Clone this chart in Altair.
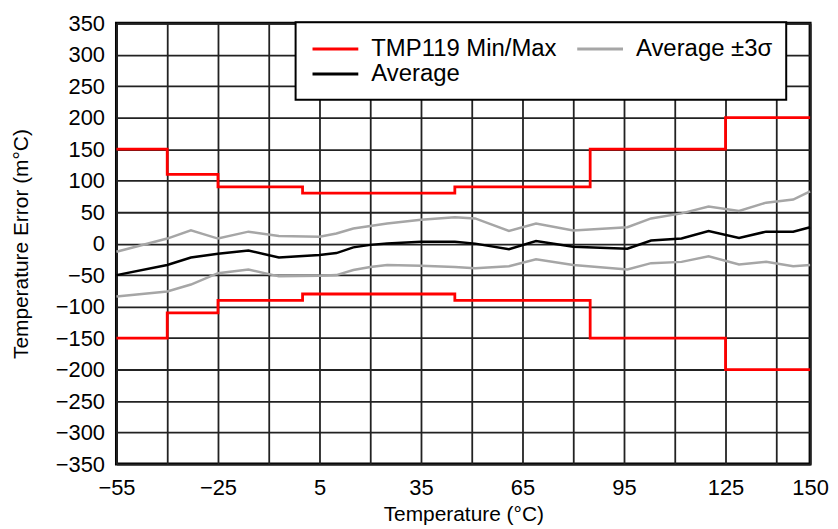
import altair as alt
import pandas as pd

# ---- data ----
limit_temps = [-55, -40, -25, 0, 45, 85, 125, 150]
limit_max = [150, 110, 90, 80, 90, 150, 200, 200]
limit_min = [-150, -110, -90, -80, -90, -150, -200, -200]

meas_temps = [-55, -40, -33, -25, -16, -7, 5, 10, 15, 20, 25, 35, 45, 51, 61, 69, 80, 96,
              103, 112, 120, 129, 137, 145, 150]
average = [-50, -34, -22, -16, -11, -22, -18, -15, -6, -2, 0, 3, 3, 0, -9, 4, -5, -8,
           5, 8, 20, 9, 19, 19, 26]
avg_plus3s = [-13, 8, 21, 8, 19, 12, 11, 16, 24, 28, 32, 38, 42, 40, 20, 32, 21, 26,
              40, 48, 59, 52, 65, 70, 83]
avg_minus3s = [-84, -76, -65, -47, -41, -52, -51, -50, -42, -37, -34, -35, -37, -39, -36, -25, -34, -41,
               -31, -29, -20, -33, -29, -36, -34]

series_names = ["TMP119 Min/Max", "Average \u00b13\u03c3", "Average"]
series_colors = ["#ff0000", "#a6a6a6", "#000000"]

x_grid = [-55, -40, -25, -10, 5, 20, 35, 50, 65, 80, 95, 110, 125, 140, 150]
y_ticks = list(range(-350, 351, 50))

# ---- tables ----
limits = pd.concat([
    pd.DataFrame({"t": limit_temps, "v": limit_max, "series": series_names[0], "line": "max"}),
    pd.DataFrame({"t": limit_temps, "v": limit_min, "series": series_names[0], "line": "min"}),
])
meas = pd.concat([
    pd.DataFrame({"t": meas_temps, "v": avg_plus3s, "series": series_names[1], "line": "p3"}),
    pd.DataFrame({"t": meas_temps, "v": avg_minus3s, "series": series_names[1], "line": "m3"}),
    pd.DataFrame({"t": meas_temps, "v": average, "series": series_names[2], "line": "avg"}),
])

FONT = "Liberation Sans"

x_enc = alt.X("t:Q",
              scale=alt.Scale(domain=[-55, 150], nice=False, zero=False),
              axis=alt.Axis(values=x_grid, title="Temperature (\u00b0C)",
                            labelExpr="((datum.value + 55) % 30 == 0 || datum.value == 150) ? datum.label : ''",
                            labelPadding=14, titlePadding=5, ticks=False, domain=False,
                            labelFontSize=22, titleFontSize=21, labelFlush=False))
y_enc = alt.Y("v:Q",
              scale=alt.Scale(domain=[-350, 350], nice=False, zero=False),
              axis=alt.Axis(values=y_ticks, title="Temperature Error (m\u00b0C)",
                            labelPadding=12, titlePadding=24, ticks=False, domain=False,
                            labelFontSize=22, titleFontSize=21))
color_enc = alt.Color("series:N",
                      scale=alt.Scale(domain=series_names, range=series_colors),
                      legend=alt.Legend(title=None, orient="none", legendX=180, legendY=-1,
                                        columns=2, direction="horizontal",
                                        symbolType="M-0.87,0H3.13", symbolSize=529,
                                        symbolStrokeWidth=3, labelFontSize=24,
                                        labelOffset=36, columnPadding=13, rowPadding=0,
                                        padding=14, fillColor="white", strokeColor="black",
                                        labelColor="black", labelLimit=400))

meas_layer = alt.Chart(meas).mark_line(strokeWidth=2.5).encode(
    x=x_enc, y=y_enc, color=color_enc, detail="line:N")
limit_layer = alt.Chart(limits).mark_line(strokeWidth=2.8, interpolate="step-after").encode(
    x=x_enc, y=y_enc, color=color_enc, detail="line:N")

chart = alt.layer(meas_layer, limit_layer).properties(
    width=697, height=443,
    autosize=alt.AutoSizeParams(type="none"),
    padding={"left": 109, "top": 14, "right": 20, "bottom": 60},
).configure(font=FONT).configure_axis(
    gridColor="#222222", gridWidth=1.8, gridOpacity=1,
    labelColor="black", titleColor="black", labelFont=FONT, titleFont=FONT,
    titleFontWeight="normal",
).configure_view(stroke="black", strokeWidth=3).configure_legend(
    labelFont=FONT, strokeWidth=2)

chart.save("out.html", embed_options={"renderer": "svg", "actions": False})
